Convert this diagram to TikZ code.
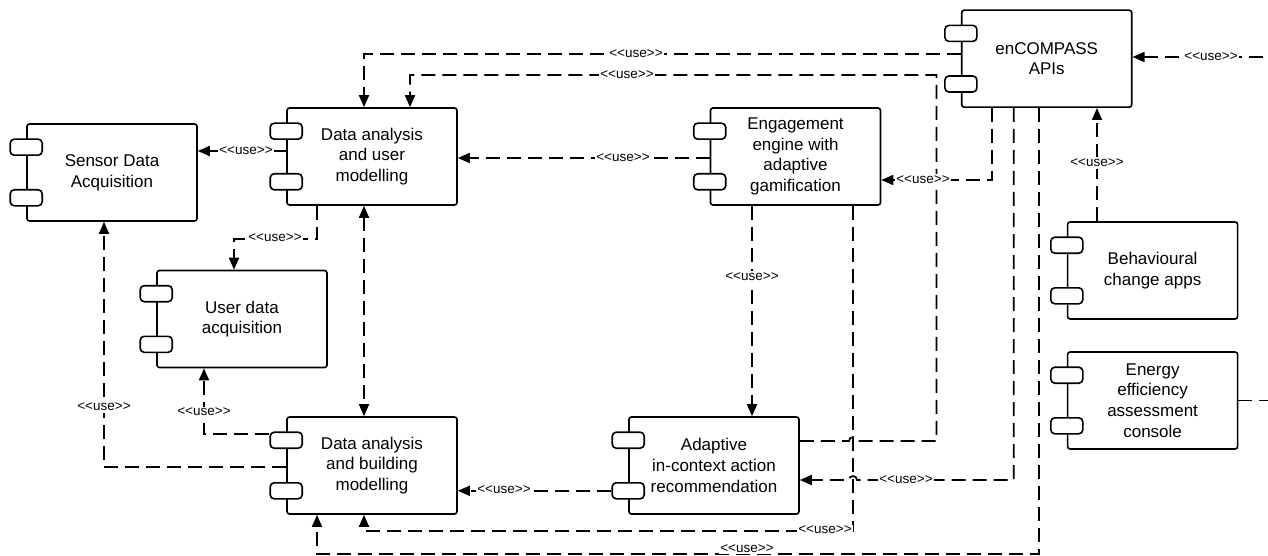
\documentclass[tikz,border=0pt]{standalone}
\usepackage{fontspec}
\setmainfont{Liberation Sans}
\usetikzlibrary{arrows.meta, calc}

\newcommand{\uselbl}{<\kern0pt<use>\kern0pt>}

\begin{document}
\begin{tikzpicture}[x=1pt, y=-1pt, >={Triangle[length=12pt, width=10pt]},
    comp/.style={draw, line width=1.6pt, rounded corners=2.5pt, fill=white,
      minimum width=170pt, minimum height=97pt, align=center,
      font=\fontsize{17}{20.7}\selectfont},
    port/.style={draw, line width=1.6pt, rounded corners=4pt, fill=white,
      minimum width=32pt, minimum height=16pt, inner sep=0pt},
    dep/.style={->, line width=1.7pt, dash pattern=on 14pt off 7pt},
    lbl/.style={fill=white, inner sep=1.5pt, font=\fontsize{13.5}{15}\selectfont}]
    \useasboundingbox (0,0) rectangle (1268,556);
    \clip (0,0) rectangle (1268,556);

    % Components
    \node[comp] (sda) at (112,172.5) {Sensor Data\\Acquisition};
    \node[comp] (daum) at (372,156.5) {Data analysis\\and user\\modelling};
    \node[comp] (eng) at (795.5,156.5) {Engagement\\engine with\\adaptive\\gamification};
    \node[comp] (enc) at (1046.7,58.7) {enCOMPASS\\APIs};
    \node[comp] (uda) at (242,319) {User data\\acquisition};
    \node[comp] (dabm) at (372,465.5) {Data analysis\\and building\\modelling};
    \node[comp] (ada) at (714,465.5) {Adaptive\\in-context action\\recommendation};
    \node[comp] (beh) at (1152.6,270.5) {Behavioural\\change apps};
    \node[comp] (eec) at (1152.6,400.5) {Energy\\efficiency\\assessment\\console};

    % Ports
    \foreach \n in {sda,daum,eng,enc,uda,dabm,ada,beh,eec} {
      \node[port] (\n-p1) at ([yshift=-24pt]\n.north west) {};
      \node[port] (\n-p2) at ([yshift=24pt]\n.south west) {};
    }

    % Helper points
    \coordinate (s1) at ([yshift=5.5pt]daum.west);
    \coordinate (g1) at ([yshift=-1.5pt]eng.west);
    \coordinate (e1) at ([xshift=-43.5pt]eng.south);
    \coordinate (b1) at ([xshift=-55.6pt]beh.north);

    % Dependencies from the top
    \draw[dep] ([yshift=4.5pt]enc.west) -| ([xshift=-8pt]daum.north);
    \draw[dep] ([yshift=24.5pt]ada.east) -- (849,441) arc (180:360:4)
      -- (936.5,441) |- (410,75) -- ([xshift=38pt]daum.north);

    % Dependencies around user modelling
    \draw[dep] (s1) -- (s1 -| sda.east);
    \draw[dep] ([xshift=-55pt]daum.south) -- ++(0,33) -| ([xshift=-8pt]uda.north);
    \draw[dep, <->] ([xshift=-8pt]daum.south) -- ([xshift=-8pt]dabm.north);
    \draw[dep] (g1) -- (g1 -| daum.east);

    % Dependencies from the engagement engine and the APIs
    \draw[dep] ([xshift=-55pt]enc.south) |- ([yshift=-23.5pt]eng.east);
    \draw[dep] (e1) -- (e1 |- ada.north);
    \draw[dep] ([xshift=57.5pt]eng.south) -- ++(0,325) -| ([xshift=-8pt]dabm.south);
    \draw[dep] ([xshift=-33pt]enc.south) |- (857,480) arc (0:-180:4)
      -- ([yshift=-14.5pt]ada.east);
    \draw[dep] ([xshift=-8pt]enc.south) -- ++(0,446) -| ([xshift=-55pt]dabm.south);
    \draw[dep] (b1) -- (b1 |- enc.south);
    \draw[dep] (eec.east) -- ++(40,0) |- ([yshift=1.7pt]enc.east);

    % Dependencies from building modelling
    \draw[dep] ([yshift=6pt]dabm-p1.west) -| ([xshift=-38pt]uda.south);
    \draw[dep] ([yshift=-1.5pt]dabm.west) -| ([xshift=-8pt]sda.south);
    \draw[dep] (ada-p2.west) -- (ada-p2.west -| dabm.east);

    % Labels
    \node[lbl] (u1) at (636,54) {\uselbl};
    \node[lbl] (u2) at (627,75) {\uselbl};
    \node[lbl] (u3) at (246,151) {\uselbl};
    \node[lbl] (u4) at (275,238) {\uselbl};
    \node[lbl] (u5) at (623,158) {\uselbl};
    \node[lbl] (u6) at (923,180) {\uselbl};
    \node[lbl] (u7) at (752,277) {\uselbl};
    \node[lbl] (u8) at (825,530) {\uselbl};
    \node[lbl] (u9) at (906,480) {\uselbl};
    \node[lbl, inner ysep=0.5pt] (u10) at (747,549) {\uselbl};
    \node[lbl] (u11) at (1097,163) {\uselbl};
    \node[lbl] (u12) at (1211,57) {\uselbl};
    \node[lbl] (u13) at (204,412) {\uselbl};
    \node[lbl] (u14) at (104,407) {\uselbl};
    \node[lbl] (u15) at (504,490) {\uselbl};
\end{tikzpicture}
\end{document}
